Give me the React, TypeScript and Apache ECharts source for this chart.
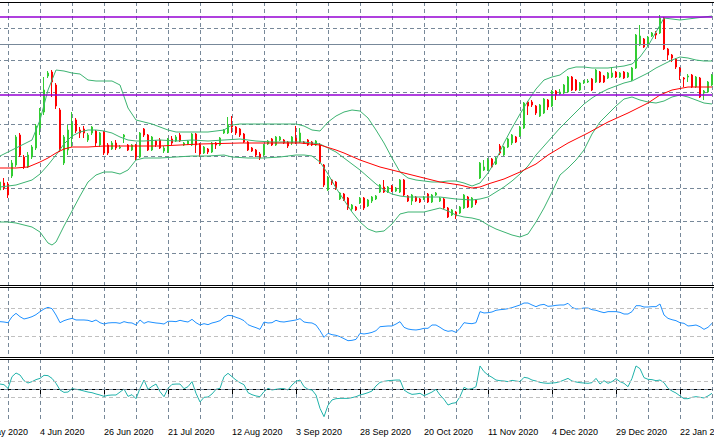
import React, { useEffect, useRef } from "react";
import * as echarts from "echarts";

// Date labels, one every 16 daily bars (the first one sits 6 bars left of the first visible bar)
const tickLabels = ["12 May 2020", "4 Jun 2020", "26 Jun 2020", "21 Jul 2020", "12 Aug 2020", "3 Sep 2020", "28 Sep 2020", "20 Oct 2020", "11 Nov 2020", "4 Dec 2020", "29 Dec 2020", "22 Jan 2021"];

// Daily candles (price units of the hidden price scale)
const openP = [95,102,101,109,120,150,128,118,128,137,
157,173,209,213,200,175,122,135,148,165,
155,156,145,152,154,140,153,140,136,142,
137,148,140,135,140,128,156,150,135,144,
145,134,133,146,144,150,140,141,140,151,
140,132,136,133,142,140,152,152,160,158,
156,151,143,137,135,131,130,141,146,140,
145,145,143,142,147,143,143,145,143,140,
140,120,95,105,103,86,91,87,76,78,
82,87,79,84,86,93,98,93,99,94,
93,105,89,84,88,86,86,91,83,90,
84,86,77,70,73,72,77,88,78,85,
107,115,115,126,121,139,130,138,142,148,
149,157,183,183,179,169,172,185,179,194,
191,192,193,208,205,195,202,203,206,203,
213,209,207,208,213,208,213,208,205,217,
240,246,240,249,252,252,267,236,230,226,
217,207,208,210,198,207,192,193,200];

const closeP = [103,97,90,122,148,130,118,130,138,159,
172,195,212,203,179,135,148,155,162,154,
152,152,150,158,142,152,132,132,142,137,
138,150,135,140,128,152,150,135,148,140,
137,137,146,142,148,144,142,144,151,140,
131,138,133,142,140,147,155,160,158,152,
150,143,135,134,130,127,140,144,140,148,
148,142,139,148,142,152,142,140,140,144,
122,100,107,102,97,92,85,77,80,75,
87,77,85,88,89,100,93,98,94,97,
105,90,84,90,84,83,88,83,90,92,
87,77,68,75,69,78,90,78,87,82,
122,118,125,118,127,132,138,146,150,143,
158,182,179,180,172,180,186,178,194,190,
193,200,208,195,195,202,204,204,195,215,
203,203,212,212,208,212,207,212,217,250,
249,238,248,252,250,267,236,230,227,218,
213,206,209,198,208,188,194,203,210];

const lowP = [93,95,87,107,118,128,116,117,126,135,
150,170,207,188,176,133,120,130,138,152,
147,147,143,150,139,138,130,130,135,135,
136,142,134,134,125,127,148,134,134,138,
136,132,132,140,143,143,139,140,139,132,
128,131,131,132,136,139,151,151,152,150,
148,142,134,133,128,125,129,140,139,139,
144,141,137,140,141,142,141,139,139,139,
121,98,94,100,95,85,84,75,74,74,
81,75,78,82,85,92,92,92,93,93,
92,89,83,80,83,82,85,82,82,89,
83,76,67,69,66,71,76,77,77,80,
106,114,114,117,120,130,129,137,140,142,
148,156,170,178,170,168,171,175,178,185,
190,191,192,194,194,194,201,202,194,202,
202,202,206,207,207,207,206,207,204,216,
239,237,239,248,246,251,235,225,223,216,
205,198,203,197,197,187,185,192,199];

const highP = [105,107,103,125,150,152,130,133,140,161,
177,208,214,215,202,177,150,160,173,167,
158,159,152,159,155,153,154,142,144,145,
140,151,141,141,141,153,157,151,149,145,
147,139,147,149,150,152,143,145,152,152,
142,139,137,143,143,148,156,168,169,159,
157,152,144,138,136,133,141,145,147,149,
149,146,144,149,159,157,144,146,144,145,
142,121,109,106,104,93,92,88,81,79,
88,88,86,89,90,101,105,99,100,98,
106,106,90,91,89,87,89,92,91,93,
88,87,78,76,74,79,91,89,88,86,
123,125,127,127,128,141,139,147,151,149,
159,183,184,185,180,181,187,186,195,195,
196,201,209,209,206,203,205,206,207,216,
214,210,213,218,214,213,214,213,218,251,
260,247,249,253,254,270,268,237,231,227,
218,208,211,211,209,208,195,204,211];

// Bollinger bands and moving average, read as [bar, value]
const upperBand = [[0,129],[4,137],[8,145],[10,165],[12,195],[14,215],[16,214],[18,212],[20,211],[22,205],[24,204],[26,204],[28,204],[30,200],[32,177],[34,165],[36,163],[38,161],[40,158],[42,155],[44,153],[48,153],[52,153],[56,155],[58,160],[60,161],[64,161],[68,161],[72,161],[74,161],[76,159],[78,155],[80,154],[82,163],[84,169],[86,173],[88,175],[90,174],[92,167],[94,155],[96,142],[98,127],[100,113],[102,107],[104,105],[106,104],[108,103],[110,103],[112,104],[114,104],[116,102],[118,99],[120,102],[122,112],[124,125],[126,142],[128,157],[130,171],[132,184],[134,196],[136,205],[138,208],[140,210],[142,216],[144,218],[146,218],[148,217],[150,217],[152,217],[154,218],[156,219],[158,221],[160,228],[162,239],[164,253],[166,267],[168,266],[170,265],[172,266],[174,267],[176,268],[178,269]];

const middleBand = [[0,98],[4,100],[8,105],[10,111],[12,120],[14,130],[16,141],[18,149],[20,153],[22,155],[24,155],[26,154],[28,152],[30,148],[32,145],[34,144],[36,144],[40,145],[44,144],[48,145],[52,144],[56,145],[60,146],[64,144],[68,143],[72,143],[76,143],[78,142],[80,141],[82,137],[84,133],[86,127],[88,121],[90,115],[92,108],[94,101],[96,95],[98,91],[100,89],[102,88],[106,88],[110,88],[114,86],[118,85],[120,86],[122,88],[124,93],[126,98],[128,104],[130,111],[132,119],[134,130],[136,139],[138,148],[140,157],[142,165],[144,173],[146,181],[148,187],[150,192],[152,196],[154,199],[156,202],[158,204],[160,208],[162,212],[164,217],[166,221],[168,225],[170,228],[172,227],[174,225],[176,224],[178,224]];

const lowerBand = [[0,63],[2,63],[4,62],[6,60],[8,58],[10,53],[12,42],[13,40],[14,43],[16,59],[18,74],[20,89],[22,103],[24,110],[26,113],[28,113],[30,111],[32,115],[34,125],[36,127],[40,127],[44,128],[48,129],[52,129],[56,130],[58,128],[62,127],[66,127],[70,128],[74,130],[76,130],[78,129],[80,123],[82,111],[84,97],[86,85],[88,73],[90,63],[92,56],[94,53],[96,54],[98,61],[100,71],[102,73],[106,73],[110,77],[112,74],[114,70],[116,68],[118,67],[120,65],[122,60],[124,56],[126,53],[128,50],[130,48],[132,51],[134,63],[136,77],[138,93],[140,110],[142,117],[144,125],[146,135],[148,151],[150,163],[152,171],[154,179],[156,186],[158,188],[160,185],[162,183],[164,182],[166,184],[168,188],[170,190],[172,188],[174,185],[176,182],[178,181]];

const movingAverage = [[0,117],[4,117],[7,118],[10,123],[12,127],[14,132],[16,136],[18,138],[22,138],[26,139],[40,139],[50,141],[60,142],[70,142],[75,142],[80,140],[84,135],[86,132],[90,125],[95,118],[100,113],[105,108],[110,103],[115,100],[118,97],[120,98],[122,101],[126,106],[130,113],[134,121],[137,130],[142,142],[147,152],[152,163],[157,172],[162,182],[165,190],[168,195],[172,198],[178,198]];

// Horizontal lines drawn on the price panel
const violetLevels = [268, 190.7];
const greyLevels = [241];

// Oscillator panels
const rsiValues = [50.5,50.0,49.0,57.6,62.4,57.6,54.3,55.7,57.6,60.5,
64.8,68.6,71.0,69.0,60.0,49.0,51.9,53.8,55.2,52.9,
52.9,52.9,52.4,50.5,52.9,49.0,47.1,48.6,49.0,49.0,
48.1,50.5,49.0,48.6,45.7,52.9,48.1,50.5,49.5,48.6,
48.1,47.1,51.0,51.0,50.5,52.4,51.0,50.0,53.8,49.0,
45.7,47.6,46.2,48.6,50.0,51.9,56.7,59.5,59.0,56.7,
54.8,51.9,46.2,43.8,41.9,39.5,50.0,48.6,49.0,52.4,
50.5,50.0,51.0,51.9,52.9,54.8,50.0,49.0,48.6,45.7,
37.6,28.1,33.8,31.9,31.0,29.0,26.2,23.3,23.8,25.2,
33.8,32.9,33.8,35.2,37.6,43.3,43.8,44.3,44.3,47.1,
50.5,42.4,40.0,39.0,38.6,39.5,41.0,41.0,45.7,45.7,
42.4,38.6,36.7,37.6,35.2,41.0,49.0,48.1,47.6,49.0,
64.8,62.9,63.3,64.3,66.7,67.6,68.1,69.0,70.5,72.4,
74.3,77.1,77.1,74.3,71.9,74.3,75.2,72.4,72.9,73.8,
74.3,74.3,76.7,71.0,68.6,69.0,70.0,70.0,67.6,66.7,
64.8,63.3,64.8,64.8,64.8,63.8,61.4,61.4,64.8,73.3,
73.3,71.4,71.4,71.9,71.9,75.7,60.0,55.2,53.3,51.9,
49.0,48.1,44.3,44.8,45.7,43.3,39.5,42.4,48.1];
const rsiLevels = [70, 30];

const cciValues = [62,54,8,154,200,175,104,75,92,117,
133,171,167,133,71,-12,-42,-38,4,-4,
-12,-25,-38,-46,-62,-75,-92,-79,-75,-75,
-38,0,-92,-71,-121,8,112,-4,33,62,
-33,-96,8,58,62,62,4,29,92,-54,
-162,-104,-100,-62,-4,8,154,196,154,112,
79,54,-46,-71,-87,-96,-33,8,-12,-4,
4,4,-12,50,96,112,29,-4,-12,-75,
-242,-346,-204,-137,-121,-117,-117,-117,-108,-96,
-75,-62,-46,-25,38,83,96,104,108,112,
112,-12,-46,-67,-62,-54,-83,-62,-38,-4,
-75,-129,-200,-179,-171,-96,21,-4,4,29,
288,217,175,146,112,104,100,92,108,100,
92,146,137,112,100,83,75,71,75,79,
92,112,133,100,88,79,75,71,79,133,
62,104,71,92,129,92,71,29,133,288,
254,142,121,117,104,112,79,8,-25,-50,
-87,-121,-121,-104,-96,-104,-112,-87,-54];
const cciLevels = [100, -100];
const cciZero = [0];

const PAD = 6;

export default function App() {
  const ref = useRef<HTMLDivElement>(null);

  useEffect(() => {
    if (!ref.current) return;
    const chart = echarts.init(ref.current, undefined, { renderer: "svg" });
    const total = PAD + openP.length;
    const cats = Array.from({ length: total }, (_, i) => String(i));
    const candles = openP.map((o, j) => [j + PAD, o, closeP[j], lowP[j], highP[j]]);
    const shift = (arr: number[][]) => arr.map(([j, v]) => [j + PAD, v]);
    const seq = (arr: number[]) => arr.map((v, j) => [j + PAD, v]);

    const gridColor = "#778899";
    const dash = [4, 3];
    const font = "Liberation Sans";

    const xAxisFor = (gridIndex: number, bottom: boolean) => ({
      type: "category",
      gridIndex,
      data: cats,
      boundaryGap: false,
      axisLine: { show: bottom, lineStyle: { color: "#000", width: 1 } },
      axisTick: {
        show: bottom,
        interval: (i: number) => i % 16 === 0,
        length: 5,
        lineStyle: { color: "#000", width: 1 },
      },
      axisLabel: {
        show: bottom,
        interval: (i: number) => i % 16 === 0,
        formatter: (v: string) => {
          const i = Number(v);
          return i % 16 === 0 ? tickLabels[i / 16] ?? "" : "";
        },
        align: "left",
        margin: 5,
        color: "#000",
        fontFamily: font,
        fontSize: 9,
        hideOverlap: false,
      },
      splitLine: {
        show: true,
        interval: (i: number) => i % 8 === 0,
        lineStyle: { color: gridColor, type: dash, width: 1 },
      },
    });

    const lineSeries = (name: string, data: number[][], color: string, xi = 0, extra: any = {}) => ({
      name,
      type: "line",
      xAxisIndex: xi,
      yAxisIndex: xi,
      data,
      showSymbol: false,
      symbol: "none",
      lineStyle: { color, width: 1 },
      silent: true,
      ...extra,
    });

    const levelLines = (levels: number[], color: string, type: any, width = 1) =>
      levels.map((v) => ({ yAxis: v, lineStyle: { color, type, width } }));

    const gridBase = { left: -24, right: 2, outerBoundsMode: "none", containLabel: false };

    const option: any = {
      animation: false,
      backgroundColor: "#ffffff",
      grid: [
        { ...gridBase, top: 2, height: 283 },
        { ...gridBase, top: 287, height: 70 },
        { ...gridBase, top: 359, height: 63 },
      ],
      xAxis: [xAxisFor(0, false), xAxisFor(1, false), xAxisFor(2, true)],
      yAxis: [
        {
          type: "value",
          gridIndex: 0,
          min: 0,
          max: 283,
          interval: 32.1,
          axisLabel: { show: false },
          axisLine: { show: false },
          axisTick: { show: false },
          splitLine: { show: true, lineStyle: { color: gridColor, type: dash, width: 1 } },
        },
        {
          type: "value",
          gridIndex: 1,
          min: 0,
          max: 100,
          axisLabel: { show: false },
          axisLine: { show: false },
          axisTick: { show: false },
          splitLine: { show: false },
        },
        {
          type: "value",
          gridIndex: 2,
          min: -412.5,
          max: 375,
          axisLabel: { show: false },
          axisLine: { show: false },
          axisTick: { show: false },
          splitLine: { show: false },
        },
      ],
      series: [
        {
          name: "price",
          type: "candlestick",
          xAxisIndex: 0,
          yAxisIndex: 0,
          data: candles,
          encode: { x: 0, y: [1, 2, 3, 4] },
          barWidth: 2,
          silent: true,
          itemStyle: {
            color: "#32CD32",
            color0: "#FF0000",
            borderColor: "#32CD32",
            borderColor0: "#FF0000",
            borderWidth: 1,
          },
          markLine: {
            silent: true,
            symbol: ["none", "none"],
            label: { show: false },
            data: [
              ...levelLines(greyLevels, "#778899", "solid", 1),
              ...levelLines(violetLevels, "#9400D3", "solid", 1.6),
            ],
          },
        },
        lineSeries("upper", shift(upperBand), "#3CB371"),
        lineSeries("middle", shift(middleBand), "#3CB371"),
        lineSeries("lower", shift(lowerBand), "#3CB371"),
        lineSeries("ma", shift(movingAverage), "#FF0000"),
        lineSeries("rsi", seq(rsiValues), "#1E90FF", 1, {
          markLine: {
            silent: true,
            symbol: ["none", "none"],
            label: { show: false },
            data: levelLines(rsiLevels, "#C0C0C0", dash),
          },
        }),
        lineSeries("cci", seq(cciValues), "#20B2AA", 2, {
          markLine: {
            silent: true,
            symbol: ["none", "none"],
            label: { show: false },
            data: [...levelLines(cciLevels, "#C0C0C0", dash), ...levelLines(cciZero, gridColor, dash)],
          },
        }),
      ],
      graphic: [
        { type: "line", z: 100, shape: { x1: 0, y1: 2.5, x2: 714, y2: 2.5 }, style: { stroke: "#000", lineWidth: 1 } },
        { type: "line", z: 100, shape: { x1: 0, y1: 285.5, x2: 714, y2: 285.5 }, style: { stroke: "#000", lineWidth: 1 } },
        { type: "line", z: 100, shape: { x1: 0, y1: 287.5, x2: 714, y2: 287.5 }, style: { stroke: "#000", lineWidth: 1 } },
        { type: "line", z: 100, shape: { x1: 0, y1: 357.5, x2: 714, y2: 357.5 }, style: { stroke: "#000", lineWidth: 1 } },
        { type: "line", z: 100, shape: { x1: 0, y1: 359.5, x2: 714, y2: 359.5 }, style: { stroke: "#000", lineWidth: 1 } },
      ],
    };

    chart.setOption(option);
    return () => chart.dispose();
  }, []);

  return (
    <div
      ref={ref}
      style={{ position: "absolute", left: 0, top: 0, width: 714, height: 443, background: "#fff" }}
    />
  );
}
